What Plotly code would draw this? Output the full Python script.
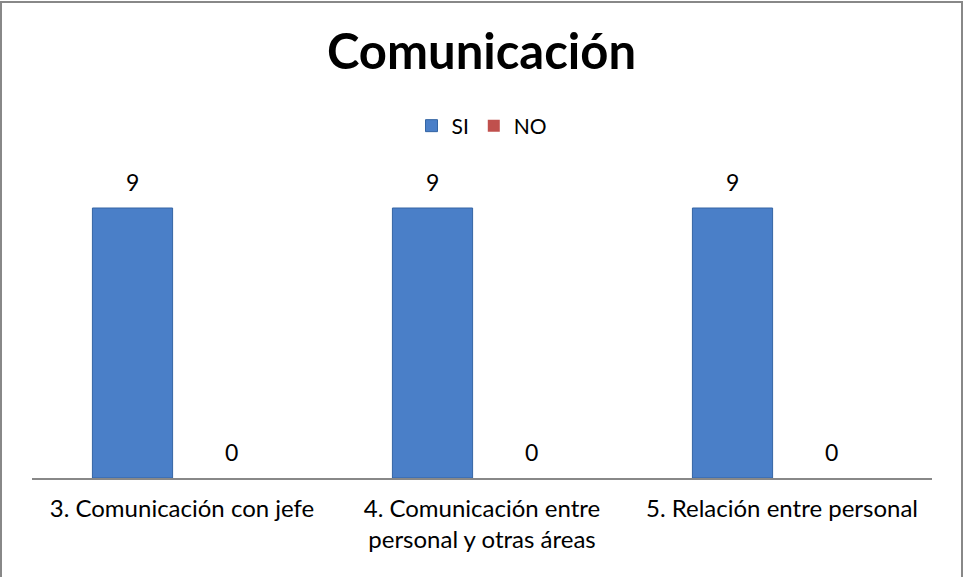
import plotly.graph_objects as go

# Chart data
categories = [
    "3. Comunicación con jefe",
    "4. Comunicación entre<br>personal y otras áreas",
    "5. Relación entre personal",
]
si_values = [9, 9, 9]
no_values = [0, 0, 0]

FONT = "Lato, 'Open Sans', sans-serif"

fig = go.Figure()

fig.add_trace(go.Bar(
    x=categories, y=si_values, name="SI",
    marker=dict(color="#4a7fc8", line=dict(color="#3465a4", width=1)),
))
fig.add_trace(go.Bar(
    x=categories, y=no_values, name="NO",
    marker=dict(color="#c0504d", line=dict(width=0)),
))

# value labels above each bar (SI left of category centre, NO right)
for series, shift in ((si_values, -49.5), (no_values, 49.5)):
    for cat, val in zip(categories, series):
        fig.add_annotation(x=cat, y=val, text=str(val), showarrow=False,
                           xshift=shift, yshift=26, yanchor="middle",
                           font=dict(size=23, color="black", family=FONT))

fig.update_layout(
    width=963, height=577,
    margin=dict(l=32, r=31, t=148, b=99),
    paper_bgcolor="white", plot_bgcolor="white",
    font=dict(family=FONT, color="black"),
    title=dict(text="<b>Comunicación</b>", x=0.5, xanchor="center",
               y=1 - 52 / 577, yanchor="middle",
               font=dict(size=49, family=FONT, color="black")),
    barmode="group", bargap=0.34, bargroupgap=0.19,
    showlegend=True,
    legend=dict(orientation="h", x=0.5, xanchor="center",
                y=(478 - 126) / 330, yanchor="middle",
                font=dict(size=21), itemwidth=30, traceorder="normal"),
    xaxis=dict(showline=True, linecolor="#888888", linewidth=2,
               ticks="outside", ticklen=8, tickcolor="rgba(0,0,0,0)",
               showgrid=False, tickfont=dict(size=24)),
    yaxis=dict(range=[0, 11], visible=False, showgrid=False),
)

# outer chart frame
fig.add_shape(type="rect", xref="paper", yref="paper",
              x0=(1 - 32) / 900, x1=(962 - 32) / 900,
              y0=(478 - 600) / 330, y1=(478 - 2) / 330,
              line=dict(color="#888888", width=2), layer="below")

fig.write_html("out.html", config={"displayModeBar": False},
               post_script="document.body.style.margin='0';")
